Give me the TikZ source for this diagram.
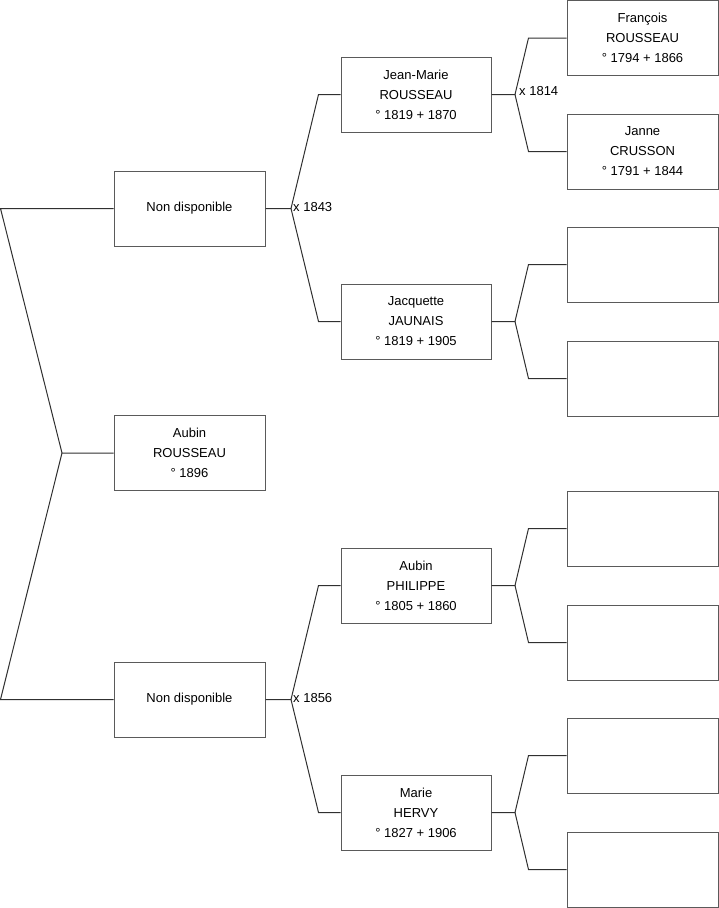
\documentclass[tikz,border=0pt]{standalone}
\usepackage{fontspec}
\setmainfont{Liberation Sans}
\definecolor{boxc}{HTML}{5A5A5A}
\definecolor{linec}{HTML}{303030}
\begin{document}
\begin{tikzpicture}[x=1pt,y=-1pt,
  person/.style={draw=boxc, line width=1pt, minimum width=151pt, minimum height=75pt,
    inner sep=0pt, align=center, font=\fontsize{13}{20}\selectfont},
  personb/.style={person, minimum width=150pt},
  link/.style={draw=linec, line width=1pt},
  mar/.style={anchor=west, inner sep=1pt, font=\fontsize{13}{15}\selectfont}]
\useasboundingbox (0,0) rectangle (719,908);
% generation 1
\node[person] (a) at (189.5,453) {Aubin\\ROUSSEAU\\° 1896};
% generation 2
\node[person] (b1) at (189.5,208.5) {Non disponible};
\node[person] (b2) at (189.5,699.5) {Non disponible};
% generation 3
\node[personb] (c1) at (416,94.5) {Jean-Marie\\ROUSSEAU\\° 1819 + 1870};
\node[personb] (c2) at (416,321.5) {Jacquette\\JAUNAIS\\° 1819 + 1905};
\node[personb] (c3) at (416,585.5) {Aubin\\PHILIPPE\\° 1805 + 1860};
\node[personb] (c4) at (416,812.5) {Marie\\HERVY\\° 1827 + 1906};
% generation 4
\node[person] (d1) at (642.5,38) {François\\ROUSSEAU\\° 1794 + 1866};
\node[person] (d2) at (642.5,151.5) {Janne\\CRUSSON\\° 1791 + 1844};
\node[person] (d3) at (642.5,264.5) {};
\node[person] (d4) at (642.5,378.5) {};
\node[person] (d5) at (642.5,528.5) {};
\node[person] (d6) at (642.5,642.5) {};
\node[person] (d7) at (642.5,755.5) {};
\node[person] (d8) at (642.5,869.5) {};
% junction points
\coordinate (va) at (62,453);
\coordinate (vb1) at (291,208.5);
\coordinate (vb2) at (291,699.5);
\coordinate (vc1) at (515,94.5);
\coordinate (vc2) at (515,321.5);
\coordinate (vc3) at (515,585.5);
\coordinate (vc4) at (515,812.5);
% connectors
\draw[link] (a.west) -- (va) -- ([xshift=-113pt]b1.west) -- (b1.west);
\draw[link] (va) -- ([xshift=-113pt]b2.west) -- (b2.west);
\draw[link] (b1.east) -- (vb1) -- ([xshift=-22pt]c1.west) -- (c1.west);
\draw[link] (vb1) -- ([xshift=-22pt]c2.west) -- (c2.west);
\draw[link] (b2.east) -- (vb2) -- ([xshift=-22pt]c3.west) -- (c3.west);
\draw[link] (vb2) -- ([xshift=-22pt]c4.west) -- (c4.west);
\draw[link] (c1.east) -- (vc1) -- ([xshift=-38pt]d1.west) -- (d1.west);
\draw[link] (vc1) -- ([xshift=-38pt]d2.west) -- (d2.west);
\draw[link] (c2.east) -- (vc2) -- ([xshift=-38pt]d3.west) -- (d3.west);
\draw[link] (vc2) -- ([xshift=-38pt]d4.west) -- (d4.west);
\draw[link] (c3.east) -- (vc3) -- ([xshift=-38pt]d5.west) -- (d5.west);
\draw[link] (vc3) -- ([xshift=-38pt]d6.west) -- (d6.west);
\draw[link] (c4.east) -- (vc4) -- ([xshift=-38pt]d7.west) -- (d7.west);
\draw[link] (vc4) -- ([xshift=-38pt]d8.west) -- (d8.west);
% marriage labels
\node[mar] (m1) at ([xshift=1pt,yshift=1pt]vb1) {x 1843};
\node[mar] (m2) at ([xshift=1pt,yshift=1pt]vb2) {x 1856};
\node[mar] (m3) at ([xshift=3pt,yshift=3pt]vc1) {x 1814};
\end{tikzpicture}
\end{document}
